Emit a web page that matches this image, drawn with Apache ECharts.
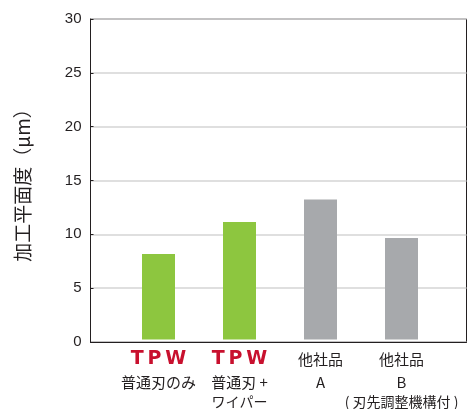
<!DOCTYPE html>
<html>
<head>
<meta charset="utf-8">
<script src="https://cdn.jsdelivr.net/npm/echarts@6/dist/echarts.min.js"></script>
<style>html,body{margin:0;padding:0;background:#fff;}#c{width:468px;height:409px;}</style>
</head>
<body>
<div id="c"></div>
<script>
var categories = ['tpw1', 'tpw2', 'otherA', 'otherB'];
var labelTexts = [
  '{logo|T\u2009P\u2009W}\n{t|普通刃のみ}',
  '{logo|T\u2009P\u2009W}\n{t|普通刃 +}\n{s|ワイパー}',
  '{t1|他社品}\n{t|A}',
  '{t1|他社品}\n{t|B}\n{s|( 刃先調整機構付 )}'
];
var values = [8.0, 11.0, 13.1, 9.5];
var barColors = ['#8dc63f', '#8dc63f', '#a7a9ac', '#a7a9ac'];
var yTicks = [0, 5, 10, 15, 20, 25, 30];
var yName = '加工平面度（μm）';

var font = '"Liberation Sans", "Noto Sans CJK JP", sans-serif';
var cjk = '"Noto Sans CJK JP", "Liberation Sans", sans-serif';
var chart = echarts.init(document.getElementById('c'), null, {renderer: 'canvas'});
chart.setOption({
  animation: false,
  grid: [
    {left: 90.5, right: 1.5, top: 19, bottom: 67, show: true, borderColor: '#231f20', borderWidth: 1, backgroundColor: 'transparent'},
    {left: 118, right: 26, top: 19, bottom: 67}
  ],
  xAxis: [
    {gridIndex: 0, type: 'value', min: 0, max: 1, show: true,
     axisLine: {show: true, lineStyle: {color: '#231f20', width: 1}},
     axisTick: {show: false}, axisLabel: {show: false}, splitLine: {show: false}},
    {gridIndex: 1, type: 'category', data: categories,
     axisLine: {show: false}, axisTick: {show: false},
     axisLabel: {
       interval: 0, margin: 8, color: '#231f20',
       formatter: function (v, i) { return labelTexts[i]; },
       rich: {
         logo: {fontFamily: '"DejaVu Sans", sans-serif', fontWeight: 'bold', fontSize: 19, color: '#c8102e', lineHeight: 24},
         t1: {fontFamily: cjk, fontSize: 15, color: '#231f20', lineHeight: 24},
         t: {fontFamily: cjk, fontSize: 15, color: '#231f20', lineHeight: 22},
         s: {fontFamily: cjk, fontSize: 14, color: '#231f20', lineHeight: 17}
       }
     }}
  ],
  yAxis: [
    {gridIndex: 0, type: 'value', min: 0, max: 30, interval: 5,
     name: yName, nameLocation: 'middle', nameRotate: 90, nameGap: 58,
     nameTextStyle: {fontFamily: cjk, fontSize: 19, color: '#231f20'},
     axisLine: {show: true, lineStyle: {color: '#231f20', width: 1}},
     axisTick: {show: true, inside: true, length: 3, lineStyle: {color: '#231f20'}},
     axisLabel: {margin: 9, fontFamily: font, fontSize: 15, color: '#231f20',
       formatter: function (v) { return yTicks.indexOf(v) >= 0 ? String(v) : ''; }},
     splitLine: {show: true, lineStyle: {color: '#d4d4d4', width: 1.5}}},
    {gridIndex: 1, type: 'value', min: 0, max: 30, interval: 5, show: false, splitLine: {show: false}}
  ],
  series: [{
    type: 'bar', xAxisIndex: 1, yAxisIndex: 1, barWidth: 33,
    data: values.map(function (v, i) { return {value: v, itemStyle: {color: barColors[i]}}; })
  }]
});
</script>
</body>
</html>
